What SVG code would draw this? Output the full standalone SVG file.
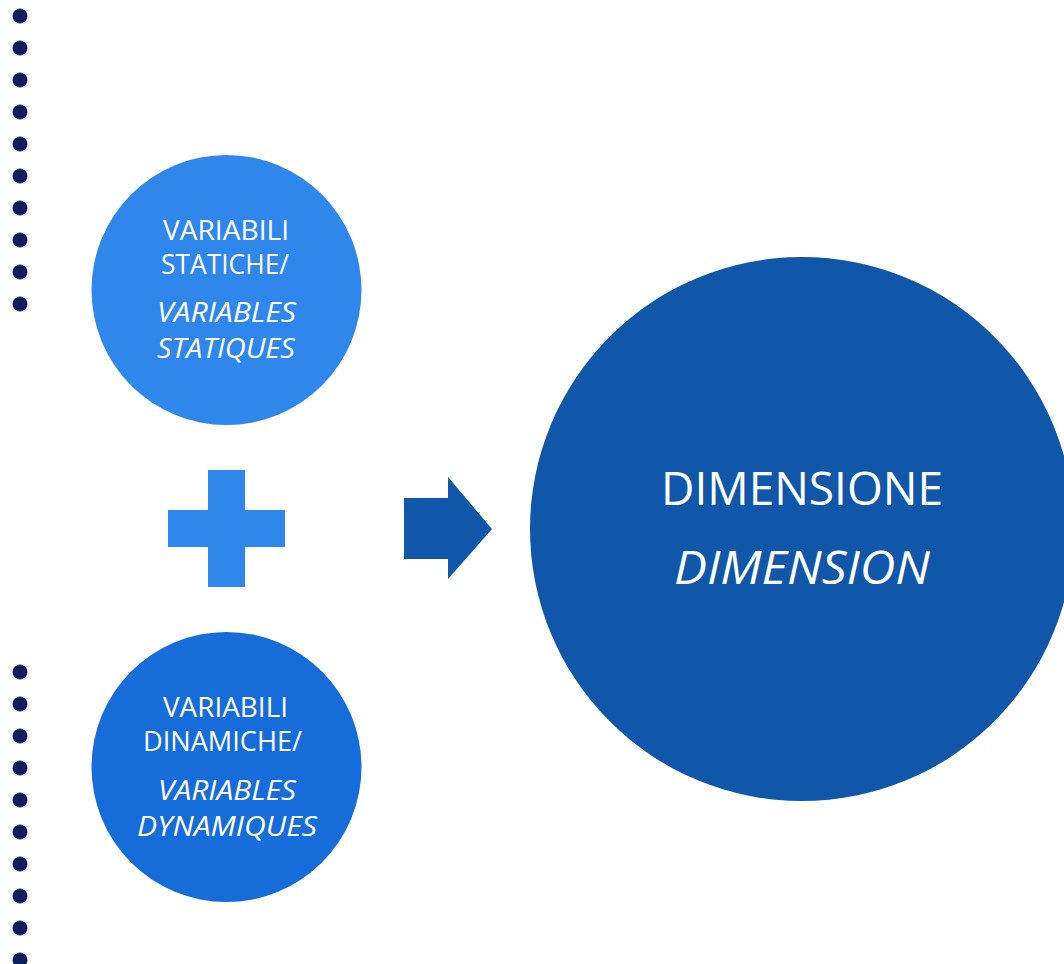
<svg xmlns="http://www.w3.org/2000/svg" width="1064" height="964" viewBox="0 0 1064 964">
<style>
.dot{fill:#0C1F5E}
.t{font-family:"Open Sans","Liberation Sans",sans-serif;fill:#FFFFFF;text-anchor:middle}
.s{font-size:27.5px}
.b{font-size:46px}
.i{font-style:italic}
</style>
<rect width="1064" height="964" fill="#FFFFFF"/>
<g id="dots-top">
<circle class="dot" cx="20" cy="16" r="7.5"/>
<circle class="dot" cx="20" cy="48" r="7.5"/>
<circle class="dot" cx="20" cy="80" r="7.5"/>
<circle class="dot" cx="20" cy="112" r="7.5"/>
<circle class="dot" cx="20" cy="144" r="7.5"/>
<circle class="dot" cx="20" cy="176" r="7.5"/>
<circle class="dot" cx="20" cy="208" r="7.5"/>
<circle class="dot" cx="20" cy="240" r="7.5"/>
<circle class="dot" cx="20" cy="272" r="7.5"/>
<circle class="dot" cx="20" cy="304" r="7.5"/>
</g>
<g id="dots-bottom">
<circle class="dot" cx="20" cy="672" r="7.5"/>
<circle class="dot" cx="20" cy="704" r="7.5"/>
<circle class="dot" cx="20" cy="736" r="7.5"/>
<circle class="dot" cx="20" cy="768" r="7.5"/>
<circle class="dot" cx="20" cy="800" r="7.5"/>
<circle class="dot" cx="20" cy="832" r="7.5"/>
<circle class="dot" cx="20" cy="864" r="7.5"/>
<circle class="dot" cx="20" cy="896" r="7.5"/>
<circle class="dot" cx="20" cy="928" r="7.5"/>
<circle class="dot" cx="20" cy="960" r="7.5"/>
</g>
<g id="static">
<circle cx="226.5" cy="290" r="135" fill="#2F86EB"/>
<text class="t s" x="226" y="240" textLength="126" lengthAdjust="spacingAndGlyphs">VARIABILI</text>
<text class="t s" x="225" y="274" textLength="128" lengthAdjust="spacingAndGlyphs">STATICHE/</text>
<text class="t s i" x="226.5" y="322" textLength="139" lengthAdjust="spacingAndGlyphs">VARIABLES</text>
<text class="t s i" x="226" y="358" textLength="138" lengthAdjust="spacingAndGlyphs">STATIQUES</text>
</g>
<g id="plus">
<path d="M208 470 H245 V510 H285 V547 H245 V587 H208 V547 H168 V510 H208 Z" fill="#2F86EB"/>
</g>
<g id="dynamic">
<circle cx="226.5" cy="767" r="135" fill="#166CD8"/>
<text class="t s" x="225.5" y="717" textLength="125" lengthAdjust="spacingAndGlyphs">VARIABILI</text>
<text class="t s" x="222.5" y="751" textLength="159" lengthAdjust="spacingAndGlyphs">DINAMICHE/</text>
<text class="t s i" x="227" y="800" textLength="138" lengthAdjust="spacingAndGlyphs">VARIABLES</text>
<text class="t s i" x="227" y="836" textLength="180" lengthAdjust="spacingAndGlyphs">DYNAMIQUES</text>
</g>
<g id="connectors">
<path d="M404 498 H448 V477 L492 529 L448 579 V559 H404 Z" fill="#1057A9"/>
</g>
<g id="dimension">
<circle cx="802" cy="529" r="272" fill="#1057A9"/>
<text class="t b" x="802" y="505" textLength="282" lengthAdjust="spacingAndGlyphs">DIMENSIONE</text>
<text class="t b i" x="802" y="584" textLength="256" lengthAdjust="spacingAndGlyphs">DIMENSION</text>
</g>
</svg>
